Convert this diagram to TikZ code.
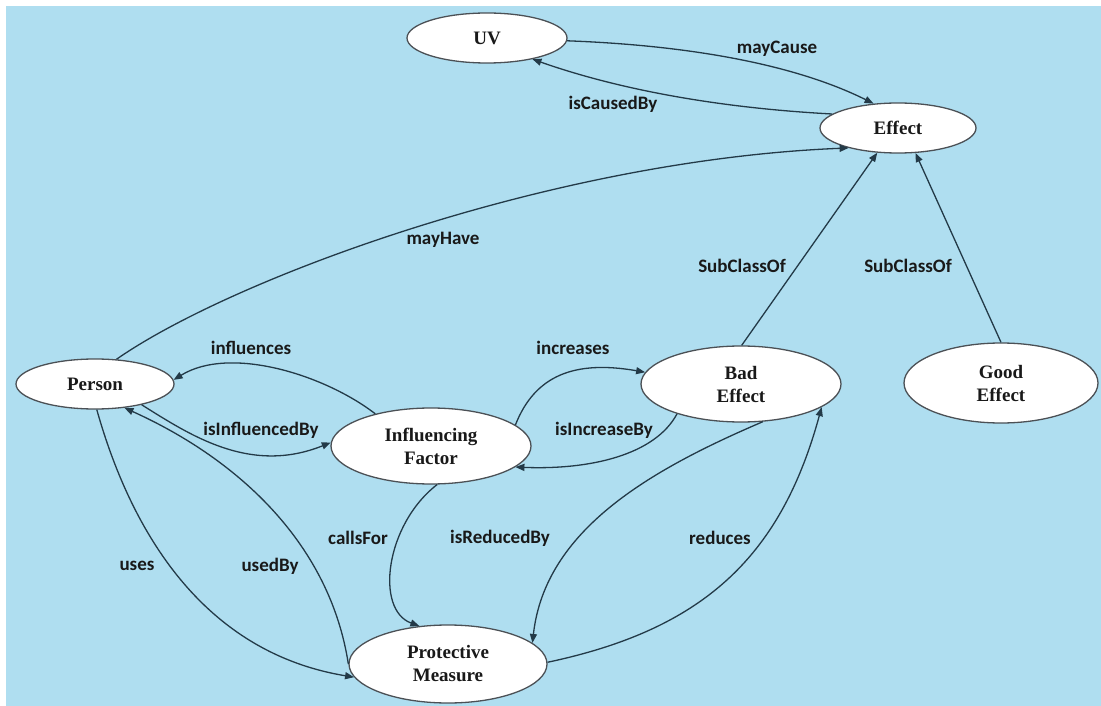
\documentclass[tikz,border=0pt]{standalone}
\usepackage{fontspec}
\setmainfont{Liberation Serif}
\newfontfamily\labelfont{Carlito}
\usetikzlibrary{shapes.geometric,arrows.meta}

\definecolor{skyback}{RGB}{175,222,240}
\definecolor{edgeink}{RGB}{35,58,72}
\definecolor{rimink}{RGB}{75,80,85}
\definecolor{textink}{RGB}{25,25,25}

\begin{document}
\begin{tikzpicture}[x=1pt,y=-1pt,
  concept/.style={ellipse, draw=rimink, line width=1.3pt, fill=white, inner sep=0pt,
    align=center, text=textink, font=\bfseries\fontsize{19}{23}\selectfont},
  rel/.style={draw=edgeink, line width=1.3pt, -{Triangle[length=9pt,width=7pt]}},
  rellabel/.style={text=textink, inner sep=0pt,
    font=\labelfont\bfseries\fontsize{19}{23}\selectfont}
]
% canvas
\useasboundingbox (0,0) rectangle (1101,706);
\fill[white] (0,0) rectangle (1101,706);
\fill[skyback] (6,6) rectangle (1101,706);

% concepts
\node[concept, minimum width=160pt, minimum height=50pt] (uv) at (487,38) {UV};
\node[concept, minimum width=156pt, minimum height=50pt] (effect) at (898,128) {Effect};
\node[concept, minimum width=158pt, minimum height=50pt] (person) at (95,384) {Person};
\node[concept, minimum width=200pt, minimum height=76pt] (factor) at (431,446) {Influencing\\Factor};
\node[concept, minimum width=200pt, minimum height=76pt] (bad) at (741,384) {Bad\\Effect};
\node[concept, minimum width=194pt, minimum height=80pt] (good) at (1001,383) {Good\\Effect};
\node[concept, minimum width=198pt, minimum height=78pt] (measure) at (448,664) {Protective\\Measure};

% relations
\draw[rel] (uv.-2) .. controls (680,45) and (790,62) .. (effect.135);
\draw[rel] (effect.168) .. controls (720,108) and (620,90) .. (uv.-25);
\draw[rel] (person.49) .. controls (230,280) and (550,160) .. (effect.202);
\draw[rel] (bad.89) -- (effect.230);
\draw[rel] (good.90) -- (effect.-55);
\draw[rel] (factor.150) .. controls (325,375) and (230,345) .. (person.3);
\draw[rel] (person.-24) .. controls (190,435) and (250,475) .. (factor.178);
\draw[rel] (factor.14) .. controls (535,375) and (575,360) .. (bad.173);
\draw[rel] (bad.205) .. controls (655,455) and (590,470) .. (factor.-14);
\draw[rel] (factor.-81) .. controls (385,525) and (375,610) .. (measure.127);
\draw[rel] (bad.-60) .. controls (650,470) and (545,530) .. (measure.14);
\draw[rel] (measure.1) .. controls (700,630) and (780,560) .. (bad.-16);
\draw[rel] (person.-86) .. controls (125,510) and (190,650) .. (measure.188);
\draw[rel] (measure.180) .. controls (330,545) and (240,460) .. (person.-39);

% relation names
\node[rellabel] (lmaycause) at (777,49) {mayCause};
\node[rellabel] (liscaused) at (613,104) {isCausedBy};
\node[rellabel] (lmayhave) at (443,240) {mayHave};
\node[rellabel] (lsubbad) at (742,266) {SubClassOf};
\node[rellabel] (lsubgood) at (908,266) {SubClassOf};
\node[rellabel] (linfl) at (251,348) {influences};
\node[rellabel] (linflby) at (261,430) {isInfluencedBy};
\node[rellabel] (lincr) at (573,348) {increases};
\node[rellabel] (lincrby) at (604,430) {isIncreaseBy};
\node[rellabel] (lcalls) at (358,538) {callsFor};
\node[rellabel] (lredby) at (500,538) {isReducedBy};
\node[rellabel] (lreduces) at (720,538) {reduces};
\node[rellabel] (luses) at (137,566) {uses};
\node[rellabel] (lusedby) at (270,566) {usedBy};
\end{tikzpicture}
\end{document}
